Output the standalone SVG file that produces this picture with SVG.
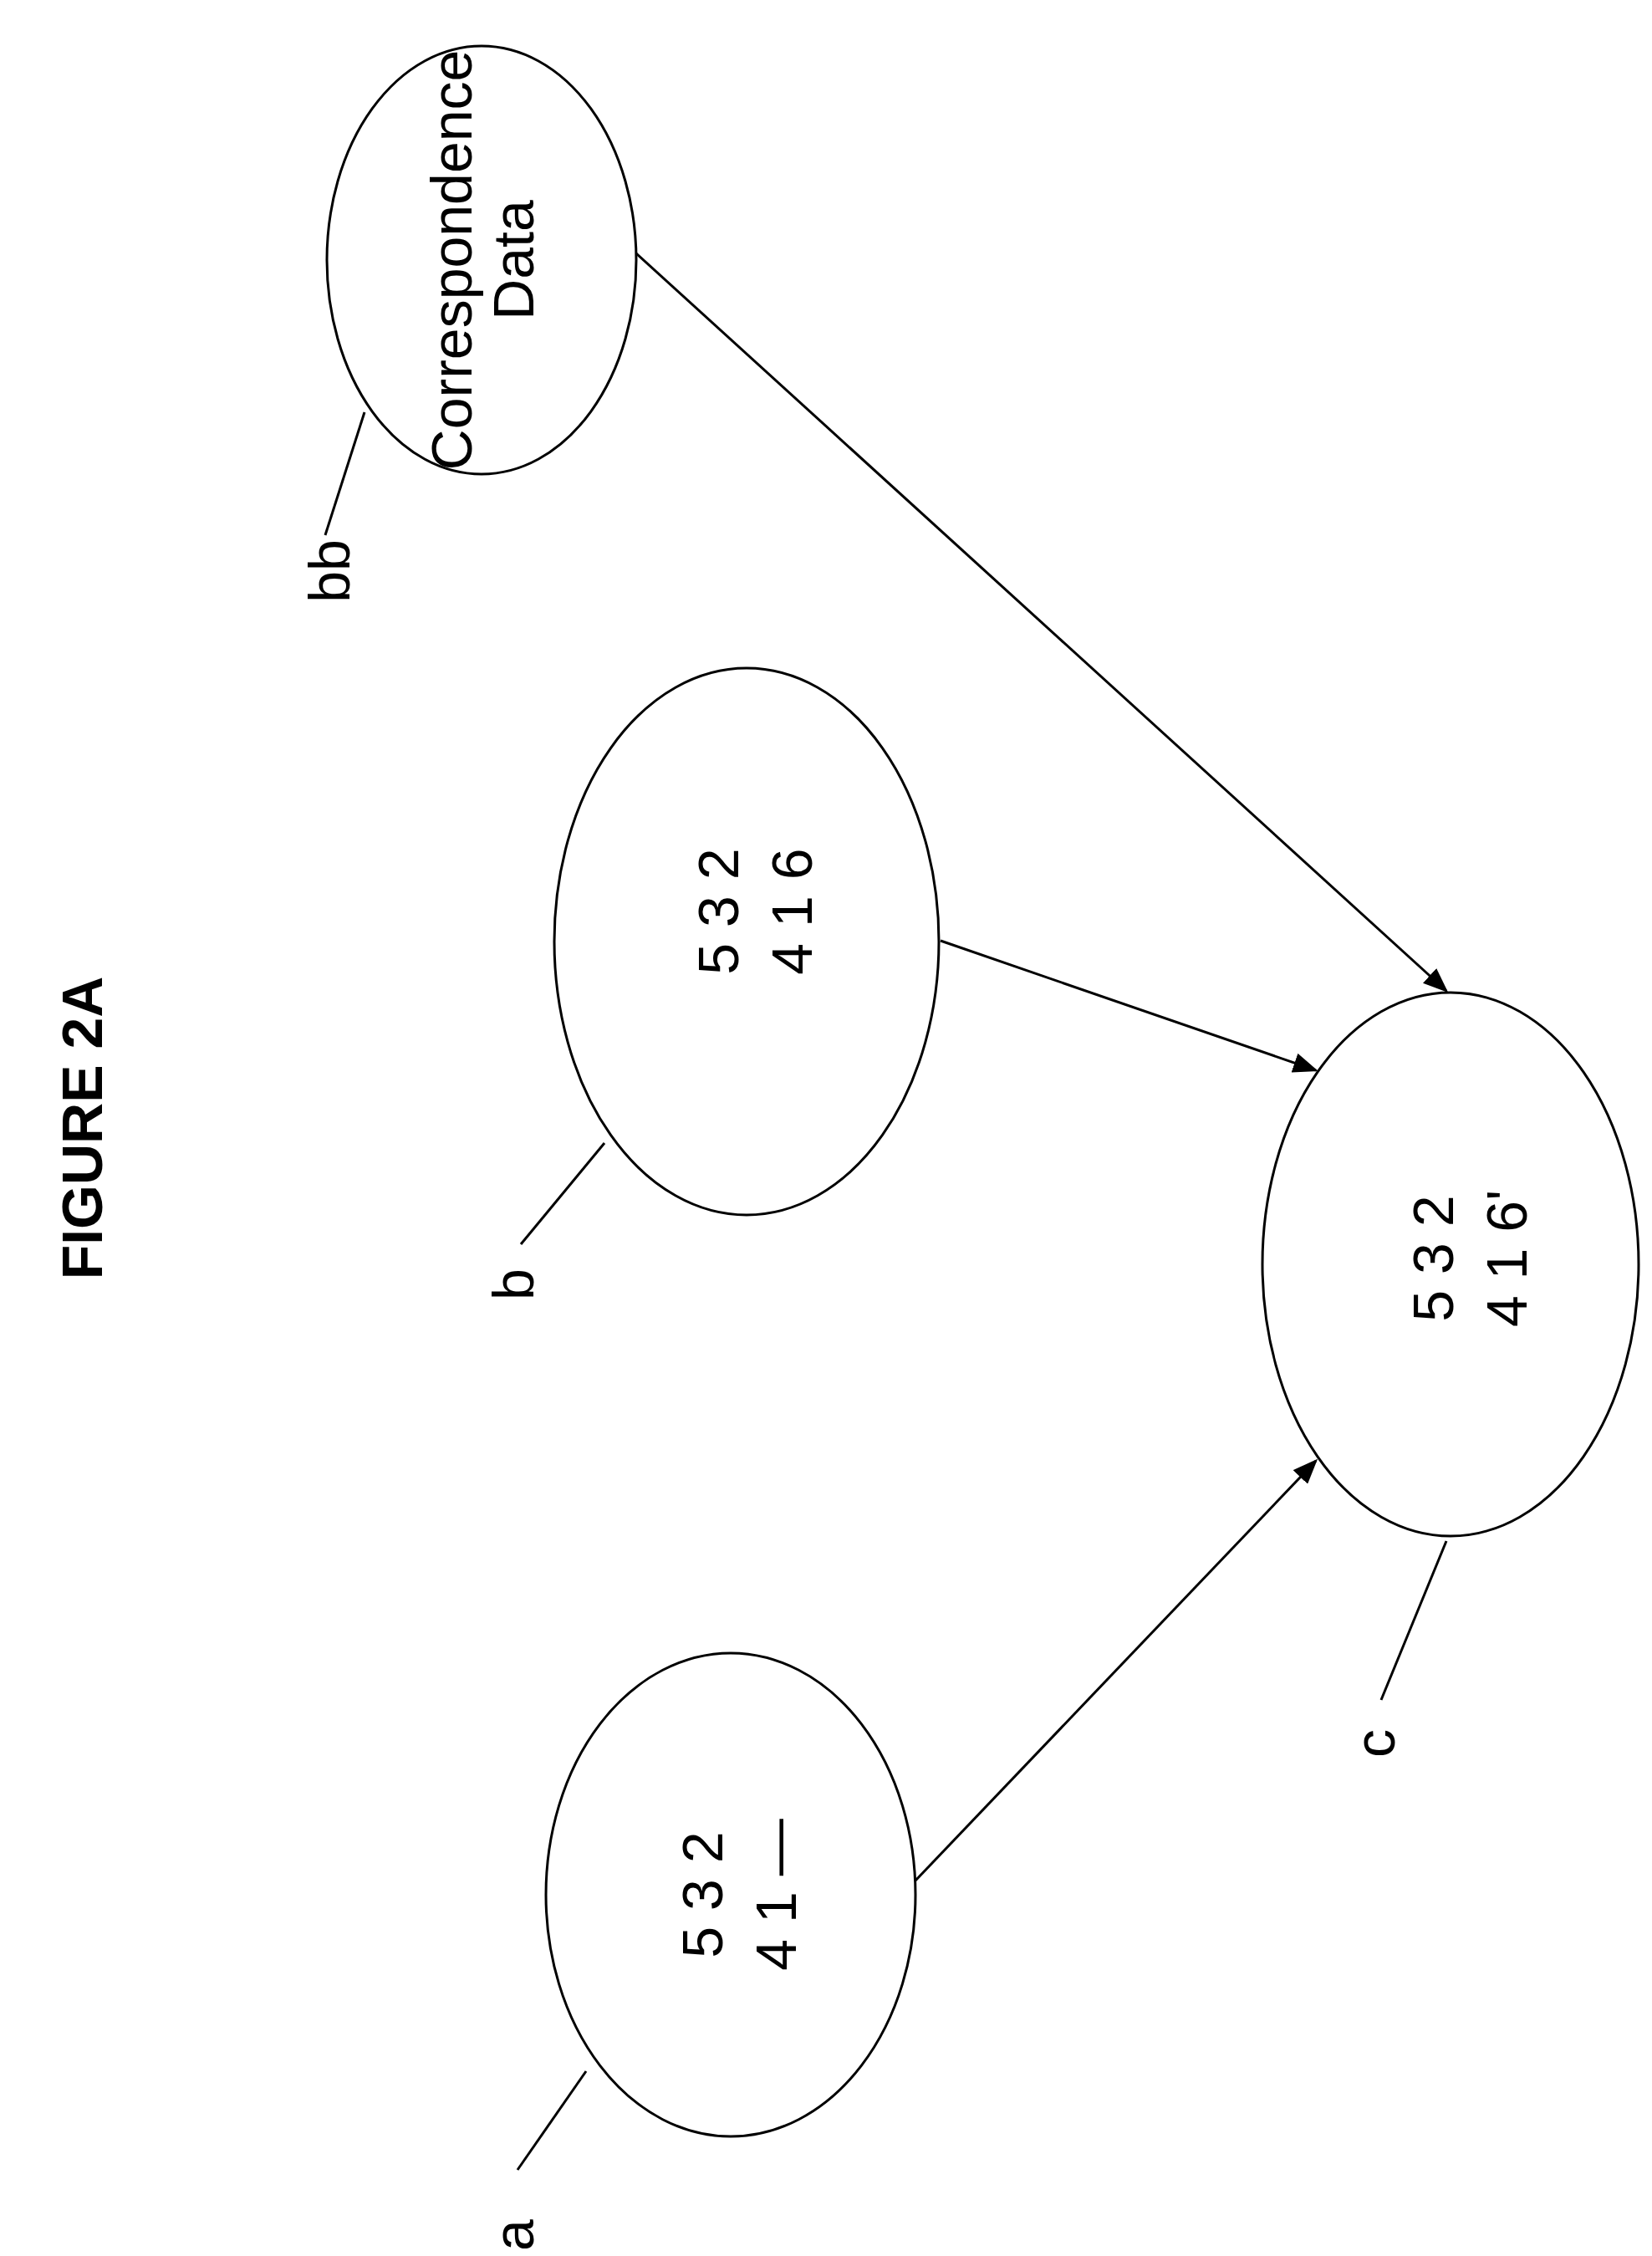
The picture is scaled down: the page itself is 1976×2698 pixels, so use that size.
<svg xmlns="http://www.w3.org/2000/svg" width="1976" height="2698" viewBox="0 0 1976 2698">
<style>
.n{fill:#fff;stroke:#000;stroke-width:3}
.t{font-family:"Liberation Sans",Arial,sans-serif;font-size:68px;fill:#000;text-anchor:middle}
.l{stroke:#000;stroke-width:3;fill:none}
</style>
<defs><marker id="ah" markerWidth="10" markerHeight="8" refX="9" refY="4" orient="auto" markerUnits="strokeWidth"><path d="M0,0 L10,4 L0,8 z" fill="#000"/></marker></defs>
<rect width="1976" height="2698" fill="#fff"/>
<text class="t" font-weight="bold" font-size="64" transform="translate(122,1349) rotate(-90)">FIGURE 2A</text>
<g id="connectors">
<line class="l" x1="1095" y1="2249" x2="1574" y2="1747" marker-end="url(#ah)"/>
<line class="l" x1="1125" y1="1125" x2="1574" y2="1280" marker-end="url(#ah)"/>
<line class="l" x1="761" y1="303" x2="1730" y2="1185" marker-end="url(#ah)"/>
<line class="l" x1="619" y1="2595" x2="701" y2="2477"/>
<line class="l" x1="623" y1="1488" x2="723" y2="1367"/>
<line class="l" x1="389" y1="640" x2="436" y2="493"/>
<line class="l" x1="1652" y1="2033" x2="1730" y2="1843"/>
</g>
<g id="bb"><ellipse class="n" cx="576" cy="311" rx="185" ry="256"/>
<text class="t" font-size="62" transform="translate(576,311) rotate(-90)"><tspan x="0" y="-12">Correspondence</tspan><tspan x="0" y="62">Data</tspan></text>
<text class="t" transform="translate(418,683) rotate(-90)">bb</text></g>
<g id="b"><ellipse class="n" cx="893" cy="1126" rx="230" ry="327"/>
<text class="t" transform="translate(893,1090) rotate(-90)"><tspan x="0" y="-10">5 3 2</tspan><tspan x="0" y="78">4 1 6</tspan></text>
<text class="t" transform="translate(638,1536) rotate(-90)">b</text></g>
<g id="a"><ellipse class="n" cx="874" cy="2266" rx="221" ry="289"/>
<text class="t" transform="translate(874,2266) rotate(-90)"><tspan x="0" y="-10">5 3 2</tspan><tspan x="0" y="78">4 1 —</tspan></text>
<text class="t" transform="translate(638,2673) rotate(-90)">a</text></g>
<g id="c"><ellipse class="n" cx="1735" cy="1512" rx="225" ry="325"/>
<text class="t" transform="translate(1748,1505) rotate(-90)"><tspan x="0" y="-10">5 3 2</tspan><tspan x="0" y="78">4 1 6'</tspan></text>
<text class="t" transform="translate(1668,2085) rotate(-90)">c</text></g>
</svg>
